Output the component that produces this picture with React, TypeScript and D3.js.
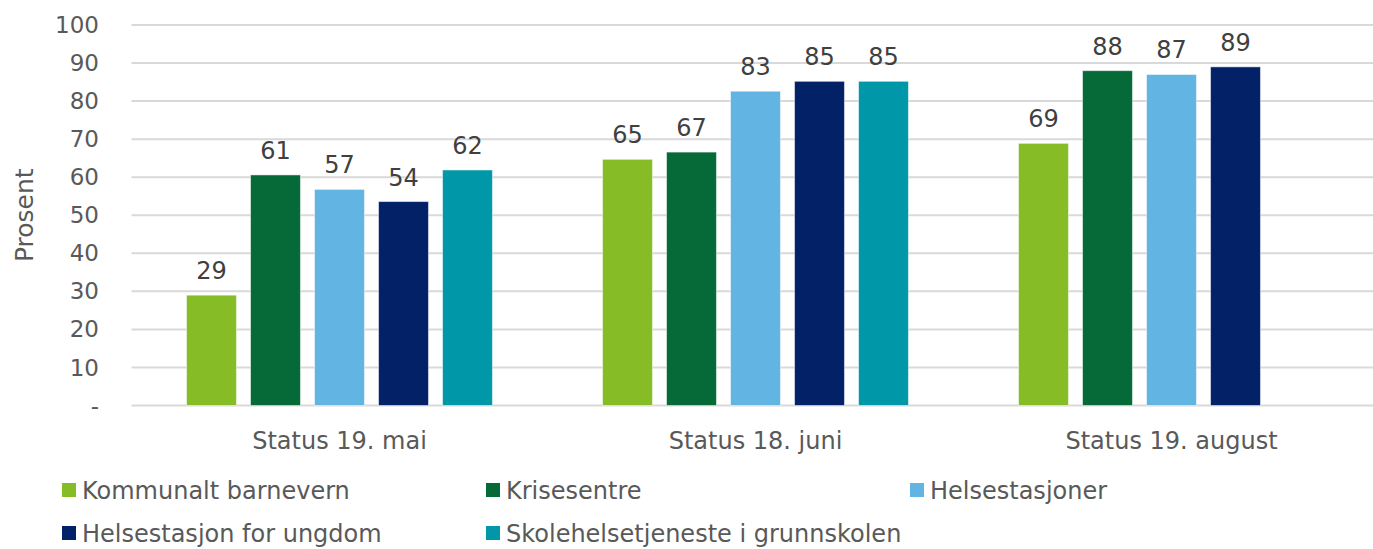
import React, { useEffect, useRef } from 'react';
import * as d3 from 'd3';

const categories = ['Status 19. mai', 'Status 18. juni', 'Status 19. august'];
const seriesNames = [
  'Kommunalt barnevern',
  'Krisesentre',
  'Helsestasjoner',
  'Helsestasjon for ungdom',
  'Skolehelsetjeneste i grunnskolen',
];
const seriesColors = ['#86bc25', '#066a38', '#62b4e3', '#022166', '#0097a9'];

// values per series, one per category (null = no bar)
const kommunaltBarnevern = [29.0, 64.7, 68.9];
const krisesentre = [60.6, 66.6, 88.0];
const helsestasjoner = [56.8, 82.6, 87.0];
const helsestasjonUngdom = [53.6, 85.2, 89.0];
const skolehelsetjeneste: (number | null)[] = [61.9, 85.2, null];

const seriesValues = [kommunaltBarnevern, krisesentre, helsestasjoner, helsestasjonUngdom, skolehelsetjeneste];
const yTicks = [0, 10, 20, 30, 40, 50, 60, 70, 80, 90, 100];

const W = 1373;
const H = 549;
const FONT = 'Verdana, "DejaVu Sans", sans-serif';

const App = () => {
  const ref = useRef<SVGSVGElement>(null);

  useEffect(() => {
    const svg = d3.select(ref.current);
    svg.selectAll('*').remove();

    const left = 131.5;
    const top = 25;
    const bottom = 405.5;

    const x0 = d3.scaleBand().domain(categories).range([left, left + 416 * 3]);
    const x1 = d3.scaleBand<number>()
      .domain(d3.range(seriesNames.length))
      .range([0, 320])
      .paddingInner(0.22)
      .paddingOuter(0.11);
    const groupOffset = (x0.bandwidth() - 320) / 2;

    const y = d3.scaleLinear().domain([0, 100]).range([bottom, top]);

    // gridlines
    svg.append('g')
      .selectAll('line')
      .data(yTicks)
      .enter().append('line')
      .attr('x1', left)
      .attr('x2', W)
      .attr('y1', d => y(d))
      .attr('y2', d => y(d))
      .attr('stroke', '#d9d9d9')
      .attr('stroke-width', 2);

    // y tick labels
    svg.append('g')
      .selectAll('text')
      .data(yTicks)
      .enter().append('text')
      .attr('x', 99)
      .attr('y', d => y(d))
      .attr('dy', '0.35em')
      .attr('text-anchor', 'end')
      .style('font-family', FONT)
      .style('font-size', '23px')
      .style('fill', '#595959')
      .text(d => (d === 0 ? '-' : String(d)));

    // y axis title
    svg.append('text')
      .attr('transform', `translate(33, ${(top + bottom) / 2}) rotate(-90)`)
      .attr('text-anchor', 'middle')
      .style('font-family', FONT)
      .style('font-size', '25px')
      .style('fill', '#595959')
      .text('Prosent');

    // bars + labels
    const flat: { c: string; s: number; v: number }[] = [];
    categories.forEach((c, ci) => {
      seriesValues.forEach((vals, si) => {
        const v = vals[ci];
        if (v != null) flat.push({ c, s: si, v });
      });
    });

    const bx = (d: { c: string; s: number }) => (x0(d.c) as number) + groupOffset + (x1(d.s) as number);

    svg.append('g')
      .selectAll('rect')
      .data(flat)
      .enter().append('rect')
      .attr('x', d => bx(d))
      .attr('y', d => y(d.v))
      .attr('width', x1.bandwidth())
      .attr('height', d => y(0) - y(d.v))
      .attr('fill', d => seriesColors[d.s])
      .attr('stroke', '#ffffff')
      .attr('stroke-opacity', 0.5)
      .attr('stroke-width', 1);

    svg.append('g')
      .selectAll('text')
      .data(flat)
      .enter().append('text')
      .attr('x', d => bx(d) + x1.bandwidth() / 2)
      .attr('y', d => y(d.v) - 16)
      .attr('text-anchor', 'middle')
      .style('font-family', FONT)
      .style('font-size', '24px')
      .style('fill', '#404040')
      .text(d => d3.format('.0f')(d.v));

    // category labels
    svg.append('g')
      .selectAll('text')
      .data(categories)
      .enter().append('text')
      .attr('x', d => (x0(d) as number) + x0.bandwidth() / 2)
      .attr('y', 449)
      .attr('text-anchor', 'middle')
      .style('font-family', FONT)
      .style('font-size', '24px')
      .style('fill', '#595959')
      .text(d => d);

    // legend
    const legend = svg.append('g')
      .selectAll('g')
      .data(seriesNames)
      .enter().append('g')
      .attr('transform', (d, i) => `translate(${62 + (i % 3) * 424}, ${483 + Math.floor(i / 3) * 43})`);

    legend.append('rect')
      .attr('width', 14)
      .attr('height', 14)
      .attr('fill', (d, i) => seriesColors[i]);

    legend.append('text')
      .attr('x', 20)
      .attr('y', 8)
      .attr('dy', '0.35em')
      .style('font-family', FONT)
      .style('font-size', '24px')
      .style('fill', '#595959')
      .text(d => d);
  }, []);

  return (
    <svg ref={ref} width={W} height={H} style={{ position: 'absolute', left: 0, top: 0 }}></svg>
  );
};

export default App;
